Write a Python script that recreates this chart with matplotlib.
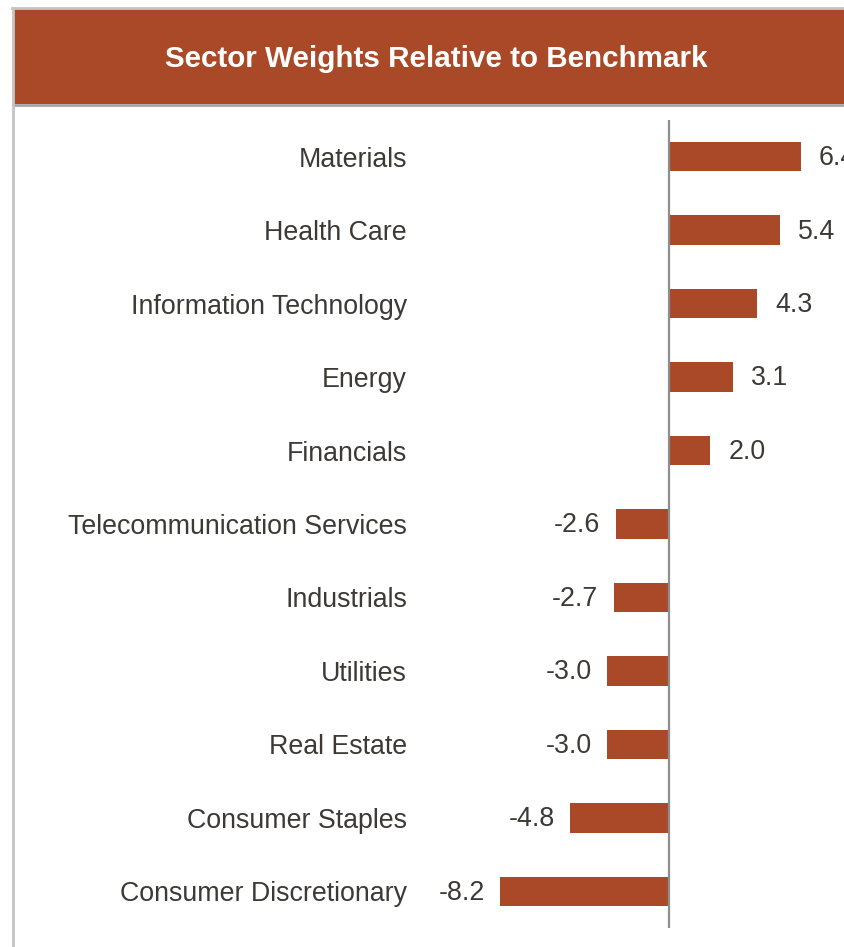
import matplotlib
matplotlib.use("Agg")
import matplotlib.pyplot as plt
from matplotlib.patches import Rectangle
from matplotlib.lines import Line2D

# sector over/underweights vs. benchmark, top to bottom
sectors = ["Materials", "Health Care", "Information Technology", "Energy",
           "Financials", "Telecommunication Services", "Industrials",
           "Utilities", "Real Estate", "Consumer Staples",
           "Consumer Discretionary"]
weights = [6.4, 5.4, 4.3, 3.1, 2.0, -2.6, -2.7, -3.0, -3.0, -4.8, -8.2]

RUST = "#AA4927"
TEXT = "#3D3935"
W, H = 844, 947

plt.rcParams["font.family"] = ["Liberation Sans", "DejaVu Sans"]
fig = plt.figure(figsize=(W / 100, H / 100), dpi=100)

# header band with title
fig.patches.append(Rectangle((13 / W, 1 - 104 / H), 1 - 13 / W, 95 / H,
                             transform=fig.transFigure, facecolor=RUST,
                             edgecolor="none", zorder=0))
fig.lines.append(Line2D([12 / W, 1], [1 - 8 / H, 1 - 8 / H],
                        transform=fig.transFigure, color="#C4C4C4", lw=2))
fig.lines.append(Line2D([13 / W, 1], [1 - 105 / H, 1 - 105 / H],
                        transform=fig.transFigure, color="#A6A6A6", lw=2))
fig.lines.append(Line2D([13 / W, 13 / W], [0, 1 - 8 / H],
                        transform=fig.transFigure, color="#C4C4C4", lw=2))
fig.text(436 / W, 1 - 59 / H, "Sector Weights Relative to Benchmark",
         color="white", fontsize=21.3, fontweight="bold",
         ha="center", va="center")

# bar panel: zero line sits at x=669px, ~20.55 px per unit
px_per_unit = 20.55
left_px, right_px = 430, W
ax = fig.add_axes([left_px / W, 1 - 928 / H, (right_px - left_px) / W, 808 / H])
ax.set_xlim(-(669 - left_px) / px_per_unit, (right_px - 669) / px_per_unit)
ypos = list(range(len(sectors)))
ax.set_ylim(len(sectors) - 0.5, -0.5)

ax.barh(ypos, weights, height=0.4, color=RUST, edgecolor="none", zorder=2)
ax.axvline(0, color="#8E8E8E", lw=1.6, zorder=3)

for y, v in zip(ypos, weights):
    if v >= 0:
        ax.annotate(f"{v:.1f}", (v, y), xytext=(13, -1), textcoords="offset points",
                    ha="left", va="center", fontsize=19.3, color=TEXT,
                    annotation_clip=False)
    else:
        ax.annotate(f"{v:.1f}", (v, y), xytext=(-11, -1), textcoords="offset points",
                    ha="right", va="center", fontsize=19.3, color=TEXT,
                    annotation_clip=False)

ax.set_yticks(ypos)
ax.set_yticklabels(sectors, fontsize=19.3, color=TEXT)
ax.tick_params(axis="y", length=0, pad=16.5)
ax.set_xticks([])
for s in ax.spines.values():
    s.set_visible(False)
ax.patch.set_alpha(0)

fig.savefig("out.png", dpi=100)
